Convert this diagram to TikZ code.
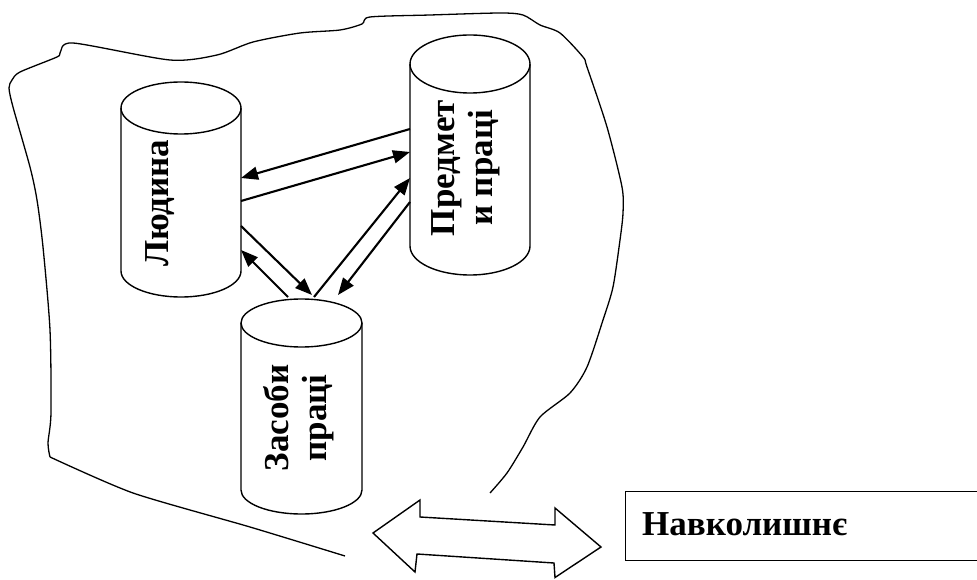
\documentclass[tikz,border=0pt]{standalone}
\usepackage{fontspec}
\setmainfont{Liberation Serif}
\usetikzlibrary{arrows.meta}
\tikzset{
  cyl/.style={draw, line width=1.4pt, fill=white},
  cylrim/.style={draw, line width=1.4pt},
  lab/.style={font=\fontsize{35}{38}\selectfont\bfseries, align=center, rotate=90, inner sep=0pt},
  envtext/.style={font=\fontsize{35}{38}\selectfont\bfseries, inner sep=0pt},
  link/.style={line width=2.1pt, -{Triangle[length=17pt,width=13pt]}},
  outline/.style={line width=1.3pt},
  blockarrow/.style={line width=1.4pt, fill=white, line join=miter},
  envbox/.style={draw, line width=1.4pt, inner sep=0pt},
}
\newcommand\drawcyl[5]{%
  \path[cyl] ({#1-#4},#2) -- ({#1-#4},#3)
     arc[start angle=180,end angle=360,x radius=#4pt,y radius=#5pt]
     -- ({#1+#4},#2)
     arc[start angle=0,end angle=180,x radius=#4pt,y radius=#5pt] -- cycle;
  \path[cylrim] ({#1-#4},#2) arc[start angle=180,end angle=360,x radius=#4pt,y radius=#5pt];
}
\begin{document}
\begin{tikzpicture}[x=1pt,y=1pt]
\useasboundingbox (0,0) rectangle (977,579);
% freehand outline
\draw[outline] plot[smooth, tension=0.45] coordinates {
 (490,86) (507,106) (523,132) (540,162) (570,186) (587,212) (603,259)
 (613,292) (620,339) (623,366) (622,392) (607,452) (587,512) (583,522)
 (560,546) (540,554) (523,564) (500,566) (430,564) (370,562) (362,555)
 (340,549) (300,546) (253,537) (217,524) (170,519) (73,536) (60,526)
 (57,522) (20,507) (12,499) (9,491) (13,472) (30,412) (37,379) (43,332)
 (50,249) (51,166) (48,136) (50,122)};
\draw[outline] plot[smooth, tension=0.4] coordinates {(50,122) (133,86) (250,52) (345,23)};
% cylinders
\drawcyl{181}{471}{308}{60}{26}
\drawcyl{470}{515}{333}{60}{29}
\drawcyl{301.5}{256}{89}{60.5}{24}
% labels
\node[lab] (L) at (160,376) {Людина};
\node[lab] (P) at (466,411) {Предмет\\и праці};
\node[lab] (Z) at (299,161) {Засоби\\праці};
% ports
\coordinate (p1) at (410,450); \coordinate (l1) at (241,401);
\coordinate (l2) at (241,378); \coordinate (p2) at (410,427);
\coordinate (l3) at (241,353); \coordinate (z3) at (312,284);
\coordinate (z4) at (288,282); \coordinate (l4) at (241,329);
\coordinate (z5) at (314,282); \coordinate (p5) at (410,401);
\coordinate (p6) at (410,377); \coordinate (z6) at (338,284);
\draw[link] (p1) -- (l1);
\draw[link] (l2) -- (p2);
\draw[link] (l3) -- (z3);
\draw[link] (z4) -- (l4);
\draw[link] (z5) -- (p5);
\draw[link] (p6) -- (z6);
% block double arrow
\draw[blockarrow] (373,46) -- (420,79) -- (420,62) -- (555,54) -- (555,71)
  -- (601,32) -- (555,1.5) -- (554,16) -- (417,25) -- (415,7) -- cycle;
% environment box
\node[envbox, anchor=south west, minimum width=365pt, minimum height=69pt] (E) at (625,18) {};
\node[envtext, anchor=base west] (Et) at (642,44) {Навколишнє};
\end{tikzpicture}
\end{document}
